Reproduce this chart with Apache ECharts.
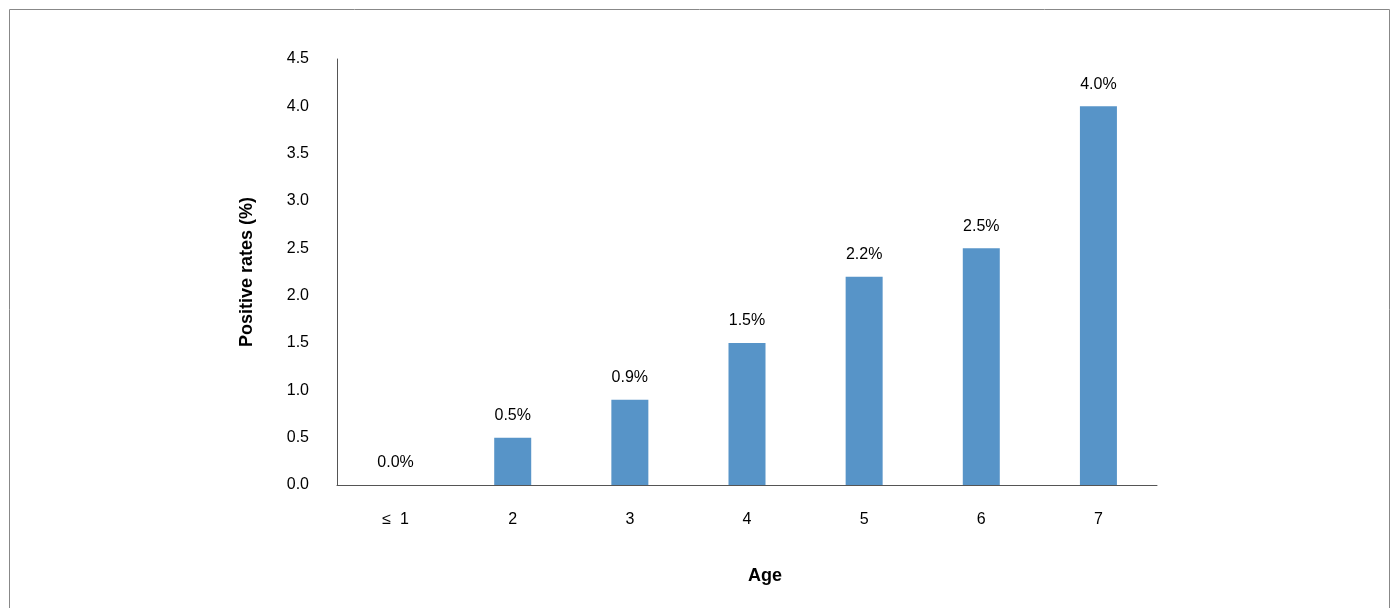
<!DOCTYPE html>
<html><head><meta charset="utf-8">
<script src="https://cdn.jsdelivr.net/npm/echarts@6/dist/echarts.min.js"></script>
<style>html,body{margin:0;padding:0;background:#fff}#c{width:1395px;height:608px}</style>
</head><body><div id="c"></div>
<script>
const categories = ['≤  1','2','3','4','5','6','7'];
const values = [0.0,0.5,0.9,1.5,2.2,2.5,4.0];
const yTicks = [0,0.5,1,1.5,2,2.5,3,3.5,4,4.5];
const chart = echarts.init(document.getElementById('c'));
chart.setOption({
  animation:false,
  graphic:[{type:'rect',shape:{x:9.5,y:9.5,width:1380,height:620},style:{fill:'none',stroke:'#888',lineWidth:1}}],
  grid:{left:337,right:238,top:59,bottom:123},
  xAxis:{type:'category',data:categories,name:'Age',nameLocation:'middle',nameGap:82,
    nameTextStyle:{fontFamily:'Liberation Sans',fontSize:18,fontWeight:'bold',color:'#000',padding:[0,0,0,36]},
    axisLine:{lineStyle:{color:'#555'}},axisTick:{show:false},
    axisLabel:{margin:27,fontFamily:'Liberation Sans',fontSize:16,color:'#000'}},
  yAxis:{type:'value',min:0,max:4.5,interval:0.5,name:'Positive rates (%)',nameLocation:'middle',nameGap:81,
    nameTextStyle:{fontFamily:'Liberation Sans',fontSize:18,fontWeight:'bold',color:'#000'},
    splitLine:{show:false},axisLine:{show:true,lineStyle:{color:'#555'}},axisTick:{show:false},
    axisLabel:{margin:28,fontFamily:'Liberation Sans',fontSize:16,color:'#000',formatter:v=>v.toFixed(1)}},
  series:[{type:'bar',data:values,barWidth:37,itemStyle:{color:'#5794C8'},
    label:{show:true,position:'top',distance:14,fontFamily:'Liberation Sans',fontSize:16,color:'#000',
      formatter:p=>p.value.toFixed(1)+'%'}}]
});
</script></body></html>
